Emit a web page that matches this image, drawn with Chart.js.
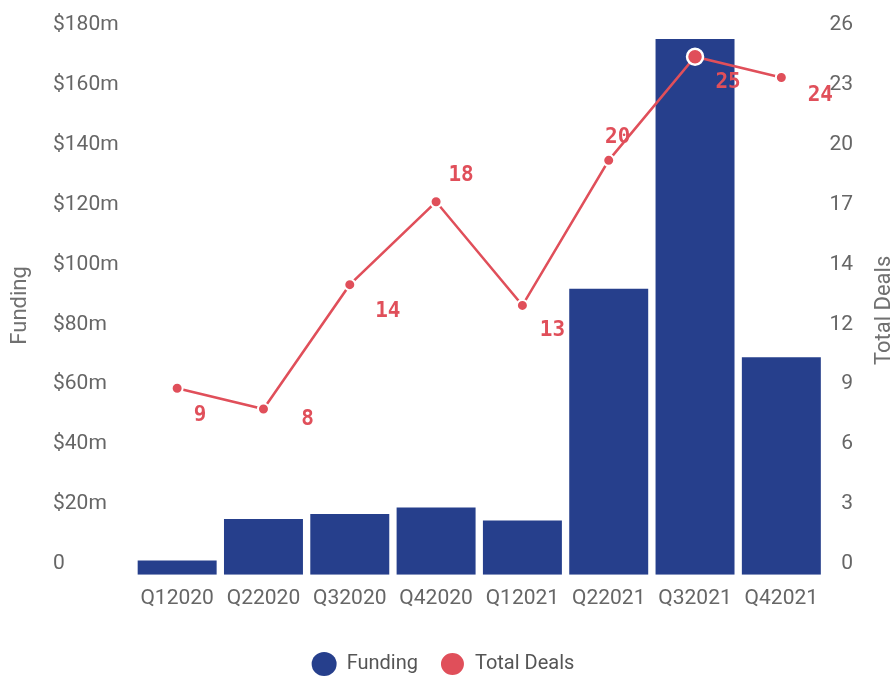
<!DOCTYPE html>
<html>
<head>
<meta charset="utf-8">
<title>Funding and Total Deals</title>
<script src="https://cdn.jsdelivr.net/npm/chart.js@4.4.1/dist/chart.umd.min.js"></script>
<style>
  html, body { margin: 0; padding: 0; background: #fff; overflow: hidden; }
  #wrap { width: 895px; height: 677px; }
</style>
</head>
<body>
<div id="wrap"><canvas id="chart"></canvas></div>
<script>
// quarterly figures
const quarters = ["Q12020", "Q22020", "Q32020", "Q42020", "Q12021", "Q22021", "Q32021", "Q42021"];
const funding = [4.8, 18.6, 20.3, 22.5, 18.1, 95.6, 179, 72.7]; // $m
const totalDeals = [9, 8, 14, 18, 13, 20, 25, 24];

// axis ticks
const fundingMax = 180;
const fundingStep = 20;
const dealTickLabels = ["0", "3", "6", "9", "12", "14", "17", "20", "23", "26"];
const dealsMax = 26;

const BLUE = "#263f8c";
const RED = "#e04f5a";
const TICK_GREY = "#666";
const peakIndex = totalDeals.indexOf(Math.max(...totalDeals));

// deal count labels sit beside each point, nudged so they don't collide with the line
const dealLabelPlugin = {
  id: "dealLabels",
  afterDatasetsDraw(chart) {
    const meta = chart.getDatasetMeta(1);
    const offsets = [[23, 27], [44, 11], [38, 27], [25, -26], [30, 25], [9, -23], [33, 26], [39, 18]];
    const ctx = chart.ctx;
    ctx.save();
    ctx.font = "bold 21px 'DejaVu Sans Mono'";
    ctx.fillStyle = RED;
    ctx.textAlign = "center";
    ctx.textBaseline = "middle";
    meta.data.forEach((pt, i) => {
      const [dx, dy] = offsets[i];
      ctx.fillText(String(totalDeals[i]), pt.x + dx, pt.y + dy);
    });
    ctx.restore();
  },
};

// both axis titles read bottom-to-top
const axisTitlePlugin = {
  id: "axisTitles",
  afterDraw(chart) {
    const { ctx, chartArea } = chart;
    const midY = (chartArea.top + chartArea.bottom) / 2;
    ctx.save();
    ctx.font = "22px Roboto";
    ctx.fillStyle = "#707070";
    ctx.textAlign = "center";
    ctx.textBaseline = "middle";
    [["Funding", 20, 0], ["Total Deals", 884, 5]].forEach(([text, x, dy]) => {
      ctx.save();
      ctx.translate(x, midY + dy);
      ctx.rotate(-Math.PI / 2);
      ctx.fillText(text, 0, 0);
      ctx.restore();
    });
    ctx.restore();
  },
};

// legend sits a little left of the canvas centre
const legendShiftPlugin = {
  id: "legendShift",
  afterLayout(chart) {
    if (chart.legend) chart.legend.left -= 20;
  },
};

new Chart(document.getElementById("chart"), {
  data: {
    labels: quarters,
    datasets: [
      {
        type: "bar",
        label: "Funding",
        data: funding,
        yAxisID: "yFunding",
        backgroundColor: BLUE,
        borderWidth: 0,
        barPercentage: 0.915,
        categoryPercentage: 1,
        order: 1,
      },
      {
        type: "line",
        label: "Total Deals",
        data: totalDeals,
        yAxisID: "yDeals",
        borderColor: RED,
        backgroundColor: RED,
        borderWidth: 2.5,
        pointRadius: (c) => (c.dataIndex === peakIndex ? 8 : 5.5),
        pointBorderColor: "#fff",
        pointBorderWidth: (c) => (c.dataIndex === peakIndex ? 2.5 : 2),
        pointBackgroundColor: RED,
        tension: 0,
        order: 0,
      },
    ],
  },
  options: {
    responsive: true,
    maintainAspectRatio: false,
    animation: false,
    layout: { padding: { left: 53, right: 42, top: 36, bottom: -7 } },
    plugins: {
      tooltip: { enabled: false },
      legend: {
        position: "bottom",
        labels: {
          usePointStyle: true,
          pointStyle: "circle",
          pointStyleWidth: 25,
          boxHeight: 17,
          padding: 22,
          color: "#555",
          font: { family: "Roboto", size: 20 },
          sort: (a, b) => a.datasetIndex - b.datasetIndex,
        },
      },
    },
    scales: {
      x: {
        grid: { display: false, drawTicks: false },
        border: { display: false },
        ticks: { color: TICK_GREY, font: { family: "Roboto", size: 21 }, padding: 11, maxRotation: 0 },
        afterFit: (scale) => { scale.height += 10; },
      },
      yFunding: {
        position: "left",
        min: 0,
        max: fundingMax,
        grid: { display: false, drawTicks: false },
        border: { display: false },
        ticks: {
          stepSize: fundingStep,
          color: TICK_GREY,
          font: { family: "Roboto", size: 21 },
          crossAlign: "far",
          labelOffset: -11,
          callback: (v) => (v === 0 ? "0" : "$" + v + "m"),
        },
        afterFit: (scale) => { scale.width = 81; },
      },
      yDeals: {
        position: "right",
        min: 0,
        max: dealsMax,
        grid: { display: false, drawTicks: false },
        border: { display: false },
        ticks: {
          color: TICK_GREY,
          font: { family: "Roboto", size: 21 },
          crossAlign: "far",
          labelOffset: -11,
          callback: (v, i) => dealTickLabels[i],
        },
        afterBuildTicks: (scale) => {
          const step = dealsMax / (dealTickLabels.length - 1);
          scale.ticks = dealTickLabels.map((_, i) => ({ value: i * step }));
        },
        afterFit: (scale) => { scale.width = 28.5; },
      },
    },
  },
  plugins: [dealLabelPlugin, axisTitlePlugin, legendShiftPlugin],
});
</script>
</body>
</html>
